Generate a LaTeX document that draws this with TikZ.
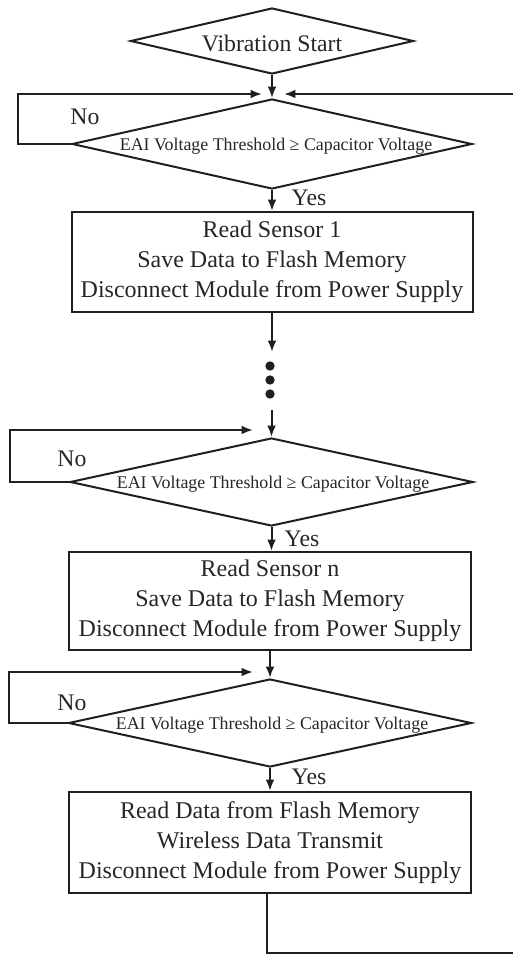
\documentclass[tikz,border=0pt]{standalone}
\usepackage{fontspec}
\setmainfont{Liberation Serif}
\usetikzlibrary{shapes.geometric,arrows.meta}
\begin{document}
\begin{tikzpicture}[x=0.75pt,y=-0.75pt,
  line width=1.5pt,
  ink/.style={draw=black!88},
  arr/.style={ink,-{Latex[length=8.5pt,width=6.5pt]}},
  dia/.style={ink,shape=diamond,inner sep=0pt},
  dtext/.style={font=\fontsize{13.4pt}{15pt}\selectfont,text=black!85,inner sep=0pt},
  procbox/.style={ink,rectangle,inner sep=0pt,align=center,text=black!85,
    font=\fontsize{18pt}{22.5pt}\selectfont},
  lbl/.style={font=\fontsize{17.8pt}{20pt}\selectfont,text=black!85,inner sep=0pt},
  dot/.style={circle,fill=black!88,inner sep=0pt,minimum size=7pt}]
\useasboundingbox (0,0) rectangle (513,955);

% start
\node[dia,minimum width=212.25pt,minimum height=49.5pt] (start) at (272,41) {};
\node[lbl] (startt) at (272,43) {Vibration Start};

% decision 1
\node[dia,minimum width=300pt,minimum height=67.5pt] (d1) at (272,144) {};
\node[dtext] (d1t) at (276,146) {EAI Voltage Threshold ≥ Capacitor Voltage};
\coordinate (d1inL) at (262,94);
\coordinate (d1inR) at (284,94);
\coordinate (d1lA) at (18,144);
\coordinate (d1lB) at (18,94);
\node[lbl] (no1) at (85,117) {No};
\node[lbl] (yes1) at (309,198) {Yes};

% box 1
\node[procbox,minimum width=300.75pt,minimum height=75pt] (b1) at (272,262)
  {Read Sensor 1\\Save Data to Flash Memory\\Disconnect Module from Power Supply};

% dots
\coordinate (dotsin) at (272,352);
\node[dot] (dot1) at (270,366) {};
\node[dot] (dot2) at (270,380) {};
\node[dot] (dot3) at (270,394) {};
\coordinate (dotsout) at (271.5,410);

% decision 2
\node[dia,minimum width=302.25pt,minimum height=66pt] (d2) at (271.5,482) {};
\node[dtext] (d2t) at (273,484) {EAI Voltage Threshold ≥ Capacitor Voltage};
\coordinate (d2in) at (253,430);
\coordinate (d2lA) at (10,482);
\coordinate (d2lB) at (10,430);
\node[lbl] (no2) at (72,459) {No};
\node[lbl] (yes2) at (302,539) {Yes};

% box 2
\node[procbox,minimum width=301.5pt,minimum height=73.5pt] (b2) at (270,601)
  {Read Sensor n\\Save Data to Flash Memory\\Disconnect Module from Power Supply};

% decision 3
\node[dia,minimum width=302.25pt,minimum height=66pt] (d3) at (270,723) {};
\node[dtext] (d3t) at (272,725) {EAI Voltage Threshold ≥ Capacitor Voltage};
\coordinate (d3in) at (253,672);
\coordinate (d3lA) at (9,723);
\coordinate (d3lB) at (9,672);
\node[lbl] (no3) at (72,703) {No};
\node[lbl] (yes3) at (309,777) {Yes};

% box 3
\node[procbox,minimum width=301.5pt,minimum height=75.75pt] (b3) at (270,842.5)
  {Read Data from Flash Memory\\Wireless Data Transmit\\Disconnect Module from Power Supply};
\coordinate (retA) at (267,953);
\coordinate (retB) at (530,953);
\coordinate (retC) at (530,94);

% connectors
\draw[arr] (start.south) -- (d1.north);
\draw[arr] (d1.west) -- (d1lA) -- (d1lB) -- (d1inL);
\draw[arr] (d1.south) -- (d1.south |- b1.north);
\draw[arr] (b1.south) -- (dotsin);
\draw[arr] (dotsout) -- (d2.north);
\draw[arr] (d2.west) -- (d2lA) -- (d2lB) -- (d2in);
\draw[arr] (d2.south) -- (d2.south |- b2.north);
\draw[arr] (b2.south) -- (d3.north);
\draw[arr] (d3.west) -- (d3lA) -- (d3lB) -- (d3in);
\draw[arr] (d3.south) -- (d3.south |- b3.north);
\draw[arr] (b3.south -| retA) -- (retA) -- (retB) -- (retC) -- (d1inR);
\end{tikzpicture}
\end{document}
